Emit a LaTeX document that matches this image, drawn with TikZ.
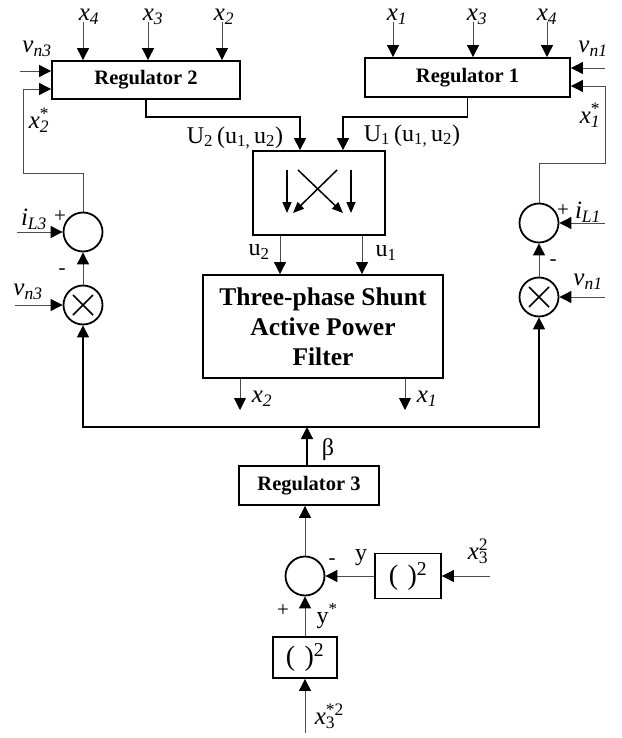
\documentclass[tikz,border=0pt]{standalone}
\usepackage{fontspec}
\setmainfont{Liberation Serif}
\usetikzlibrary{arrows.meta}
\newcommand{\xs}[2]{\textit{#1}\textsubscript{\textit{#2}}}
\newcommand{\xss}[3]{\textit{#1}\rlap{\textsuperscript{#3}}\textsubscript{#2}}
\begin{document}
\begin{tikzpicture}[x=1pt,y=-1pt,
  box/.style={draw,line width=1.8pt,inner sep=0pt,align=center},
  rc/.style={draw,circle,line width=1.8pt,minimum size=39pt,inner sep=0pt},
  lab/.style={inner sep=0pt,font=\fontsize{25}{27}\selectfont},
  ulab/.style={inner sep=0pt,font=\fontsize{24}{26}\selectfont},
  sgn/.style={inner sep=0pt,font=\fontsize{21}{22}\selectfont},
  thinar/.style={line width=0.9pt,draw=black!70,-{Triangle[length=12pt,width=12pt,color=black]}},
  thickar/.style={line width=1.4pt,draw=black,-{Triangle[length=12pt,width=12pt,color=black]}},
  smallar/.style={line width=1.5pt,-{Triangle[length=11pt,width=9pt]}}]
\useasboundingbox (0,0) rectangle (621,738);

% boxes
\node[box,minimum width=188pt,minimum height=38pt,font=\fontsize{20.5}{22}\selectfont\bfseries] (reg2) at (146,80) {Regulator 2};
\node[box,minimum width=205pt,minimum height=39pt,font=\fontsize{20.5}{22}\selectfont\bfseries] (reg1) at (467.5,77.5) {Regulator 1};
\node[box,minimum width=132pt,minimum height=84pt] (sw) at (319,193) {};
\node[box,minimum width=240pt,minimum height=103pt,font=\fontsize{25.5}{30}\selectfont\bfseries] (apf) at (323,326.5) {Three-phase Shunt\\Active Power\\Filter};
\node[box,minimum width=140pt,minimum height=39pt,font=\fontsize{20.5}{22}\selectfont\bfseries] (reg3) at (309,485.5) {Regulator 3};
\node[box,minimum width=66pt,minimum height=45pt,font=\fontsize{28}{30}\selectfont] (sqr) at (408,576) {(\,\,)\textsuperscript{2}};
\node[box,minimum width=64pt,minimum height=41pt,font=\fontsize{28}{30}\selectfont] (sqb) at (305,657.5) {(\,\,)\textsuperscript{2}};

% circles
\node[rc] (s2) at (83,232) {};
\node[rc] (m2) at (83,305) {};
\node[rc] (s1) at (539,223) {};
\node[rc] (m1) at (539,297) {};
\node[rc] (s3) at (305,576) {};
\foreach \m in {m1,m2}{
  \draw[line width=1.5pt] ([shift={(-10,-10)}]\m.center) -- ([shift={(10,10)}]\m.center);
  \draw[line width=1.5pt] ([shift={(-10,10)}]\m.center) -- ([shift={(10,-10)}]\m.center);
}

% switch inner arrows
\draw[smallar] (287,170) -- (287,213);
\draw[smallar] (351,170) -- (351,213);
\draw[smallar] (298,170) -- (343,213);
\draw[smallar] (337,170) -- (293,213);

% coordinates
\coordinate (a24) at (83,22);
\coordinate (a23) at (148,22);
\coordinate (a22) at (222,22);
\coordinate (a11) at (393,22);
\coordinate (a13) at (473,22);
\coordinate (a14) at (547,22);
\coordinate (vn3) at (20,71);
\coordinate (fb2) at (23,89);
\coordinate (c2) at (23,173);
\coordinate (il3) at (17,232);
\coordinate (vn3b) at (15,305);
\coordinate (vn1) at (605,68);
\coordinate (fb1) at (605,86);
\coordinate (c1) at (605,163);
\coordinate (il1) at (605,223);
\coordinate (vn1b) at (605,297);
\coordinate (p2) at (300,117);
\coordinate (p1) at (343,117);
\coordinate (o2) at (280,0);
\coordinate (o1) at (362,0);
\coordinate (ox2) at (240,410);
\coordinate (ox1) at (405,410);
\coordinate (busy) at (0,427);
\coordinate (x3in) at (490,576);
\coordinate (x3b) at (305,733);

% inputs to regulators
\foreach \c in {a24,a23,a22}{\draw[thinar] (\c) -- (\c |- reg2.north);}
\foreach \c in {a11,a13,a14}{\draw[thinar] (\c) -- (\c |- reg1.north);}
\draw[thinar] (vn3) -- (vn3 -| reg2.west);
\draw[thinar] (s2.north) |- (c2) -- (fb2) -- (fb2 -| reg2.west);
\draw[thinar] (vn1) -- (vn1 -| reg1.east);
\draw[thinar] (s1.north) |- (c1) -- (fb1) -- (fb1 -| reg1.east);

% regulator outputs
\draw[thickar] (reg2.south) |- (p2) -- (p2 |- sw.north);
\draw[thickar] (reg1.south) |- (p1) -- (p1 |- sw.north);

% switch to filter
\draw[thinar] (o2 |- sw.south) -- (o2 |- apf.north);
\draw[thinar] (o1 |- sw.south) -- (o1 |- apf.north);

% filter outputs
\draw[thinar] (ox2 |- apf.south) -- (ox2);
\draw[thinar] (ox1 |- apf.south) -- (ox1);

% left / right chains
\draw[thinar] (il3) -- (s2.west);
\draw[thinar] (m2.north) -- (s2.south);
\draw[thinar] (vn3b) -- (m2.west);
\draw[thinar] (il1) -- (s1.east);
\draw[thinar] (m1.north) -- (s1.south);
\draw[thinar] (vn1b) -- (m1.east);

% bus
\draw[line width=1.4pt,{Triangle[length=12pt,width=12pt]}-{Triangle[length=12pt,width=12pt]}] (m2.south) -- (m2.south |- busy) -- (m1.south |- busy) -- (m1.south);
\draw[thickar] (reg3.north -| s3) ++(2,0) coordinate (bb) (bb) -- (bb |- busy);

% bottom part
\draw[thinar] (s3.north) -- (s3.north |- reg3.south);
\draw[thinar] (sqr.west) -- (s3.east);
\draw[thinar] (x3in) -- (x3in -| sqr.east);
\draw[thinar] (sqb.north) -- (s3.south);
\draw[thinar] (x3b) -- (x3b |- sqb.south);

% labels
\node[lab] (l24) at (89,17) {\xs{x}{4}};
\node[lab] (l23) at (153,17) {\xs{x}{3}};
\node[lab] (l22) at (224,17) {\xs{x}{2}};
\node[lab] (l11) at (397,17) {\xs{x}{1}};
\node[lab] (l13) at (477,17) {\xs{x}{3}};
\node[lab] (l14) at (547,17) {\xs{x}{4}};
\node[lab] (lvn3) at (37,49) {\xs{v}{n3}};
\node[lab] (lvn1) at (593,49) {\xs{v}{n1}};
\node[lab] (lx2s) at (39,120) {\xss{x}{\textit{2}}{*}};
\node[lab] (lx1s) at (590,115) {\xss{x}{\textit{1}}{*}};
\node[ulab] (lU2) at (235,138) {U\textsubscript{2}\,(u\textsubscript{1,}\,u\textsubscript{2})};
\node[ulab] (lU1) at (412,136) {U\textsubscript{1}\,(u\textsubscript{1,}\,u\textsubscript{2})};
\node[lab] (lil3) at (34,219) {\xs{i}{L3}};
\node[sgn] (pl3) at (60,217) {+};
\node[lab] (lil1) at (588,212) {\xs{i}{L1}};
\node[sgn] (pl1) at (563,211) {+};
\node[sgn] (mi2) at (62,272) {-};
\node[sgn] (mi1) at (553,263) {-};
\node[lab] (lvn3b) at (28,292) {\xs{v}{n3}};
\node[lab] (lvn1b) at (588,282) {\xs{v}{n1}};
\node[ulab] (lu2) at (259,252) {u\textsubscript{2}};
\node[ulab] (lu1) at (386,253) {u\textsubscript{1}};
\node[lab] (lox2) at (262,399) {\xs{x}{2}};
\node[lab] (lox1) at (427,399) {\xs{x}{1}};
\node[ulab] (lbeta) at (328,450) {β};
\node[ulab] (ly) at (361,558) {y};
\node[sgn] (mi3) at (332,562) {-};
\node[sgn] (pl3b) at (283,611) {+};
\node[ulab] (lys) at (327,616) {y\textsuperscript{*}};
\node[lab] (lx3sq) at (478,551) {\xss{x}{3}{2}};
\node[lab] (lx3b) at (325,716) {\xss{x}{3}{*2}};
\end{tikzpicture}
\end{document}
